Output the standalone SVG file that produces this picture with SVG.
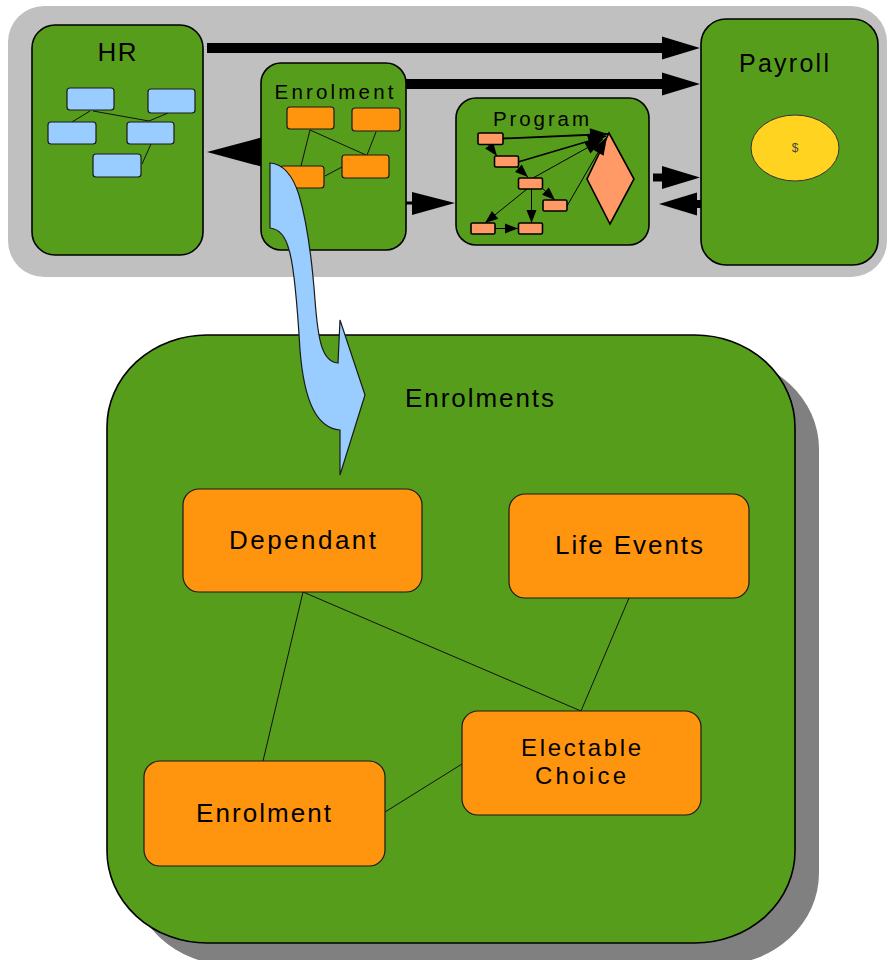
<svg xmlns="http://www.w3.org/2000/svg" width="888" height="960" viewBox="0 0 888 960">
<style>
text{font-family:"Liberation Sans",Arial,sans-serif;fill:#000;text-anchor:middle}
.big{fill:#579D1C;stroke:#000;stroke-width:1.6}
.blue{fill:#99CCFF;stroke:#1a1a1a;stroke-width:1.2}
.orange{fill:#FF950E;stroke:#1a1a1a;stroke-width:1.2}
.salmon{fill:#FF9966;stroke:#000;stroke-width:1.6}
.thin{stroke:#111;stroke-width:1;fill:none}
.thick{stroke:#000;stroke-width:10;fill:none}
.prog{stroke:#000;stroke-width:1;fill:none;marker-end:url(#small)}
.progd{stroke:#000;stroke-width:1;fill:none;marker-end:url(#mid)}
.head{fill:#000}
</style>
<defs>
<marker id="big" markerUnits="userSpaceOnUse" markerWidth="40" markerHeight="24" refX="0" refY="11.5" orient="auto" overflow="visible">
<path d="M0,0 L38,11.5 L0,23 Z" fill="#000"/>
</marker>
<marker id="small" markerUnits="userSpaceOnUse" markerWidth="14" markerHeight="11" refX="13" refY="5" orient="auto" overflow="visible">
<path d="M0,0 L13,5 L0,10 Z" fill="#000"/>
</marker>
<marker id="mid" markerUnits="userSpaceOnUse" markerWidth="20" markerHeight="14" refX="18" refY="6.5" orient="auto" overflow="visible">
<path d="M0,0 L18,6.5 L0,13 Z" fill="#000"/>
</marker>
</defs>

<g id="system">
<rect x="8" y="6" width="879" height="271" rx="36" fill="#C0C0C0"/>
</g>

<g id="connectors-top">
<line class="thick" x1="207" y1="48" x2="662" y2="48" marker-end="url(#big)"/>
<line class="thick" x1="406" y1="84" x2="662" y2="84" marker-end="url(#big)"/>
<line x1="653" y1="177.5" x2="662" y2="177.5" stroke="#000" stroke-width="8" marker-end="url(#big)"/>
<line x1="701" y1="204" x2="697" y2="204" stroke="#000" stroke-width="8" marker-end="url(#big)"/>
<line x1="405" y1="203" x2="412" y2="203" stroke="#000" stroke-width="3"/>
<polygon class="head" points="412,192 455,203 412,215"/>
<polygon class="head" points="263,137 207,152 263,167"/>
</g>

<g id="hr">
<rect class="big" x="32" y="25" width="171" height="230" rx="23"/>
<text x="117" y="61" font-size="26" textLength="39" lengthAdjust="spacing">HR</text>
<g class="thin">
<line x1="90" y1="111" x2="72" y2="122"/>
<line x1="93" y1="111" x2="149" y2="121"/>
<line x1="149" y1="121" x2="168" y2="113"/>
<line x1="151" y1="144" x2="142" y2="164"/>
</g>
<rect class="blue" x="67" y="88" width="47" height="22" rx="3"/>
<rect class="blue" x="148" y="89" width="47" height="24" rx="3"/>
<rect class="blue" x="48" y="122" width="48" height="22" rx="3"/>
<rect class="blue" x="127" y="122" width="47" height="22" rx="3"/>
<rect class="blue" x="93" y="154" width="48" height="23" rx="3"/>
</g>

<g id="enrolment-top">
<rect class="big" x="261" y="63" width="145" height="187" rx="20"/>
<text x="334" y="99" font-size="20.5" textLength="119" lengthAdjust="spacing">Enrolment</text>
<g class="thin">
<line x1="310" y1="130" x2="301" y2="166"/>
<line x1="310" y1="130" x2="366" y2="155"/>
<line x1="376" y1="132" x2="367" y2="155"/>
<line x1="325" y1="176" x2="342" y2="167"/>
</g>
<rect class="orange" x="287" y="107" width="47" height="22" rx="3"/>
<rect class="orange" x="352" y="108" width="48" height="23" rx="3"/>
<rect class="orange" x="280" y="166" width="44" height="22" rx="3"/>
<rect class="orange" x="342" y="155" width="47" height="23" rx="3"/>
</g>

<g id="program">
<rect class="big" x="456" y="98" width="193" height="147" rx="20"/>
<text x="541" y="126" font-size="20.5" textLength="96" lengthAdjust="spacing">Program</text>
<polygon class="salmon" points="609,133 634,179 610,224 587,179"/>
<line x1="503" y1="138.5" x2="608" y2="134" stroke="#000" stroke-width="1.8" marker-end="url(#mid)"/>
<line class="prog" x1="488" y1="144" x2="497" y2="156"/>
<line x1="518" y1="162" x2="606" y2="136" stroke="#000" stroke-width="1.5" marker-end="url(#mid)"/>
<line class="prog" x1="516" y1="166" x2="528" y2="177"/>
<line class="progd" x1="533" y1="178" x2="603" y2="139"/>
<line class="prog" x1="541" y1="187" x2="555" y2="200"/>
<line class="prog" x1="531.5" y1="189" x2="531.5" y2="223"/>
<line class="prog" x1="527" y1="189" x2="485" y2="223"/>
<line class="prog" x1="495" y1="228.5" x2="518" y2="228.5"/>
<line class="progd" x1="567" y1="206" x2="607" y2="137"/>
<rect class="salmon" x="478" y="133" width="25" height="11.5" rx="1.5"/>
<rect class="salmon" x="494.5" y="156" width="24" height="11" rx="1.5"/>
<rect class="salmon" x="518.5" y="178" width="24" height="11" rx="1.5"/>
<rect class="salmon" x="543" y="200" width="24" height="11" rx="1.5"/>
<rect class="salmon" x="471" y="223" width="24" height="11" rx="1.5"/>
<rect class="salmon" x="518.5" y="223" width="24" height="11" rx="1.5"/>
</g>

<g id="payroll">
<rect class="big" x="701" y="19" width="177" height="246" rx="25"/>
<text x="784" y="72" font-size="25" textLength="90" lengthAdjust="spacing">Payroll</text>
<ellipse cx="795" cy="148" rx="44" ry="33" fill="#FFD320" stroke="#333" stroke-width="1"/>
<text x="795" y="152" font-size="12" style="fill:#444">$</text>
</g>

<g id="enrolments">
<rect x="131" y="357" width="688" height="608" rx="100" ry="92" fill="#808080"/>
<rect class="big" x="107" y="335" width="688" height="608" rx="100" ry="92"/>
<text x="479.5" y="407" font-size="26" textLength="149" lengthAdjust="spacing">Enrolments</text>
</g>

<g id="connectors-bottom" class="thin">
<line x1="303" y1="592" x2="263" y2="761"/>
<line x1="303" y1="592" x2="581" y2="711"/>
<line x1="629" y1="598" x2="581" y2="711"/>
<line x1="385" y1="812" x2="462" y2="764"/>
</g>

<g id="dependant">
<rect class="orange" x="183" y="489" width="239" height="103" rx="16"/>
<text x="302.5" y="549" font-size="26" textLength="147" lengthAdjust="spacing">Dependant</text>
</g>
<g id="life-events">
<rect class="orange" x="509" y="494" width="240" height="104" rx="16"/>
<text x="629" y="554" font-size="26" textLength="148" lengthAdjust="spacing">Life Events</text>
</g>
<g id="electable-choice">
<rect class="orange" x="462" y="711" width="239" height="104" rx="16"/>
<text x="581" y="756" font-size="24" textLength="120" lengthAdjust="spacing">Electable</text>
<text x="580.5" y="784" font-size="24" textLength="91" lengthAdjust="spacing">Choice</text>
</g>
<g id="enrolment">
<rect class="orange" x="144" y="761" width="241" height="105" rx="16"/>
<text x="263.5" y="822" font-size="26" textLength="135" lengthAdjust="spacing">Enrolment</text>
</g>

<g id="drill-down-arrow">
<path class="blue" d="M270,163 C283,164 293,176 299,195 C307,222 312,260 315,300 C318,340 322,362 338,363 L340,320 L365,395 L340,475 L340,430 C316,428 304,400 300,350 C297,300 293,262 289,250 C286,238 280,229 270,228 Z"/>
</g>
</svg>
